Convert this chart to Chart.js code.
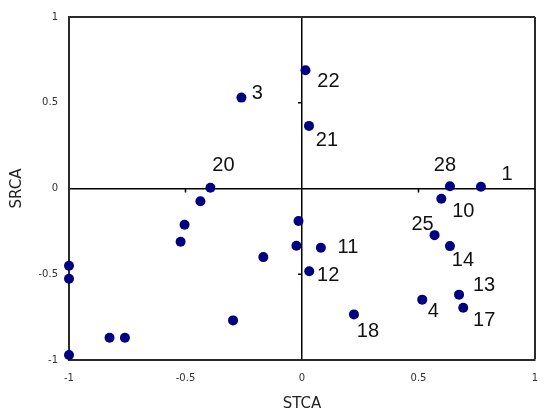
<!DOCTYPE html>
<html>
<head>
<meta charset="utf-8">
<script src="https://cdn.jsdelivr.net/npm/chart.js@4/dist/chart.umd.min.js"></script>
<style>
  html, body { margin: 0; padding: 0; background: #fff; }
  #wrap { width: 544px; height: 416px; }
</style>
</head>
<body>
<div id="wrap"><canvas id="c" width="544" height="416"></canvas></div>
<script>
// STCA / SRCA coordinates of each item, with its number label ('' = unlabelled)
const stca = [-0.26, 0.015, 0.03, -0.393, -0.436, 0.635, 0.768, 0.598, -0.504, -0.521,
              -0.166, -1.0, -1.0, -0.296, -0.826, -0.76, -1.0, -0.015, -0.024, 0.081,
              0.031, 0.223, 0.569, 0.635, 0.516, 0.674, 0.692];
const srca = [0.53, 0.69, 0.365, 0.004, -0.074, 0.013, 0.01, -0.06, -0.211, -0.31,
              -0.40, -0.45, -0.526, -0.769, -0.87, -0.87, -0.971, -0.19, -0.334, -0.345,
              -0.483, -0.734, -0.272, -0.336, -0.648, -0.619, -0.695];
const pointLabels = ['3', '22', '21', '20', '', '28', '1', '10', '', '',
                     '', '', '', '', '', '', '', '', '', '11',
                     '12', '18', '25', '14', '4', '13', '17'];

// axis ticks
const tickValues = [-1, -0.5, 0, 0.5, 1];
const tickLabels = ['-1', '-0.5', '0', '0.5', '1'];
// small tick marks on the crossing axes
const crossTicks = [-0.5, 0.5];

// where each number label sits relative to its marker (px)
const labelOffsets = {
  '3': [16, -4], '22': [23, 11], '21': [18, 15], '20': [13, -22], '28': [-5, -21],
  '1': [26, -12], '10': [22, 13], '11': [27, 0], '12': [19, 4], '18': [14, 17],
  '25': [-12, -11], '14': [13, 14], '4': [11, 12], '13': [25, -9], '17': [21, 13]
};

const points = stca.map((x, i) => ({ x: x, y: srca[i] }));

const frameColor = '#2a2a2a';

function gridColor(ctx) {
  const v = ctx.tick && ctx.tick.value;
  if (v === 0) return '#000';
  if (v === 1) return frameColor;
  return 'rgba(0,0,0,0)';
}
function gridWidth(ctx) {
  const v = ctx.tick && ctx.tick.value;
  if (v === 1) return 2;
  return 1.5;
}

const crossTickPlugin = {
  id: 'crossTicks',
  beforeDatasetsDraw(chart) {
    const { ctx, scales: { x, y } } = chart;
    const x0 = x.getPixelForValue(0);
    const y0 = y.getPixelForValue(0);
    ctx.save();
    ctx.strokeStyle = '#000';
    ctx.lineWidth = 1.5;
    ctx.beginPath();
    crossTicks.forEach(v => {
      const px = x.getPixelForValue(v);
      ctx.moveTo(px, y0);
      ctx.lineTo(px, y0 + 4);
      const py = y.getPixelForValue(v);
      ctx.moveTo(x0 - 4, py);
      ctx.lineTo(x0, py);
    });
    ctx.stroke();
    ctx.restore();
  }
};

const labelPlugin = {
  id: 'pointNumbers',
  afterDatasetsDraw(chart) {
    const { ctx } = chart;
    const meta = chart.getDatasetMeta(0);
    ctx.save();
    ctx.font = '20px "Liberation Sans", Arial, sans-serif';
    ctx.fillStyle = '#111';
    ctx.textAlign = 'center';
    ctx.textBaseline = 'middle';
    meta.data.forEach((el, i) => {
      const txt = pointLabels[i];
      if (!txt) return;
      const off = labelOffsets[txt] || [14, 0];
      ctx.fillText(txt, el.x + off[0], el.y + off[1]);
    });
    ctx.restore();
  }
};

new Chart(document.getElementById('c'), {
  type: 'scatter',
  data: {
    datasets: [{
      data: points,
      backgroundColor: '#000080',
      borderColor: '#000080',
      borderWidth: 0,
      pointRadius: 5,
      pointHoverRadius: 5,
      clip: false
    }]
  },
  options: {
    responsive: false,
    animation: false,
    devicePixelRatio: 1,
    layout: { padding: { top: 17, right: 9, bottom: 0, left: 0 } },
    plugins: { legend: { display: false }, tooltip: { enabled: false } },
    scales: {
      x: {
        type: 'linear',
        position: 'bottom',
        min: -1, max: 1,
        afterBuildTicks(scale) { scale.ticks = tickValues.map(v => ({ value: v })); },
        afterFit(scale) {
          scale.height = 56;
          scale.paddingLeft = 0;
          scale.paddingRight = 0;
        },
        ticks: {
          padding: 12,
          color: '#333',
          font: { family: '"DejaVu Sans", sans-serif', size: 10 },
          maxRotation: 0,
          callback: (v) => tickLabels[tickValues.indexOf(v)]
        },
        grid: { drawTicks: false, color: gridColor, lineWidth: gridWidth },
        border: { display: true, color: frameColor, width: 2 },
        title: {
          display: true, text: 'STCA', color: '#222',
          font: { family: '"DejaVu Sans", sans-serif', size: 15 },
          padding: { top: 0, bottom: 3 }
        }
      },
      y: {
        type: 'linear',
        position: 'left',
        min: -1, max: 1,
        afterBuildTicks(scale) { scale.ticks = tickValues.map(v => ({ value: v })); },
        afterFit(scale) { scale.width = 69; },
        ticks: {
          padding: 11,
          color: '#333',
          font: { family: '"DejaVu Sans", sans-serif', size: 10 },
          callback: (v) => tickLabels[tickValues.indexOf(v)]
        },
        grid: { drawTicks: false, color: gridColor, lineWidth: gridWidth },
        border: { display: true, color: frameColor, width: 2 },
        title: {
          display: true, text: 'SRCA', color: '#222',
          font: { family: '"DejaVu Sans", sans-serif', size: 15 },
          padding: { top: 8, bottom: 0 }
        }
      }
    }
  },
  plugins: [crossTickPlugin, labelPlugin]
});
</script>
</body>
</html>
